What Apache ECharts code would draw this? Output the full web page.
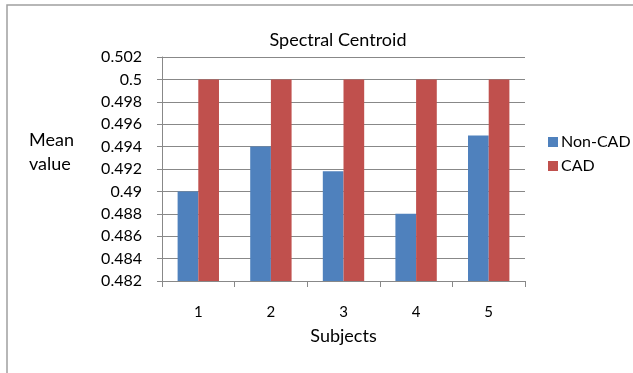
<!DOCTYPE html>
<html>
<head>
<meta charset="utf-8">
<script src="https://cdn.jsdelivr.net/npm/echarts@6/dist/echarts.min.js"></script>
<style>
  html, body { margin: 0; padding: 0; background: #fff; }
  #chart { width: 633px; height: 373px; }
</style>
</head>
<body>
<div id="chart"></div>
<script>
// Chart data
const subjects = ['1', '2', '3', '4', '5'];
const nonCadValues = [0.490, 0.494, 0.4918, 0.488, 0.495];
const cadValues = [0.500, 0.500, 0.500, 0.500, 0.500];

const fontFamily = 'Lato, "Open Sans", sans-serif';
const textColor = '#000';

const chart = echarts.init(document.getElementById('chart'));

const option = {
  backgroundColor: '#fff',
  animation: false,
  title: {
    text: 'Spectral Centroid',
    left: 333,
    textAlign: 'center',
    top: 26,
    textStyle: {color: textColor, fontFamily: fontFamily, fontSize: 18, fontWeight: 'normal'}
  },
  legend: {
    orient: 'vertical',
    left: 543,
    top: 129,
    itemWidth: 10,
    itemHeight: 10,
    itemGap: 8,
    icon: 'rect',
    textStyle: {color: textColor, fontFamily: fontFamily, fontSize: 16, padding: [0, 0, 0, -2]},
    data: ['Non-CAD', 'CAD']
  },
  graphic: [{
    type: 'rect',
    shape: {x: 7, y: 5, width: 700, height: 400},
    style: {fill: 'none', stroke: '#a0a0a0', lineWidth: 1.5},
    silent: true
  }, {
    type: 'text',
    left: 29,
    top: 128,
    style: {
      text: 'Mean\nvalue',
      font: '18px ' + fontFamily,
      fill: textColor,
      lineHeight: 24
    }
  }],
  grid: {
    left: 162,
    right: 108,
    top: 57,
    bottom: 92
  },
  xAxis: {
    type: 'category',
    data: subjects,
    name: 'Subjects',
    nameLocation: 'middle',
    nameGap: 46,
    nameTextStyle: {color: textColor, fontFamily: fontFamily, fontSize: 18},
    axisLine: {lineStyle: {color: '#888'}},
    axisTick: {show: true, length: 6, lineStyle: {color: '#888'}},
    axisLabel: {color: textColor, fontFamily: fontFamily, fontSize: 15, margin: 24}
  },
  yAxis: {
    type: 'value',
    min: 0.482,
    max: 0.502,
    interval: 0.002,
    axisLine: {show: true, lineStyle: {color: '#888'}},
    axisTick: {show: true, length: 5, lineStyle: {color: '#888'}},
    splitLine: {lineStyle: {color: '#888'}},
    axisLabel: {
      color: textColor,
      fontFamily: fontFamily,
      fontSize: 16,
      margin: 20,
      formatter: function (v) {
        return String(+v.toFixed(3));
      }
    }
  },
  series: [{
    name: 'Non-CAD',
    type: 'bar',
    data: nonCadValues,
    barGap: '0%',
    barCategoryGap: '43%',
    itemStyle: {color: '#4F81BD'}
  }, {
    name: 'CAD',
    type: 'bar',
    data: cadValues,
    itemStyle: {color: '#C0504D'}
  }]
};

chart.setOption(option);
</script>
</body>
</html>
